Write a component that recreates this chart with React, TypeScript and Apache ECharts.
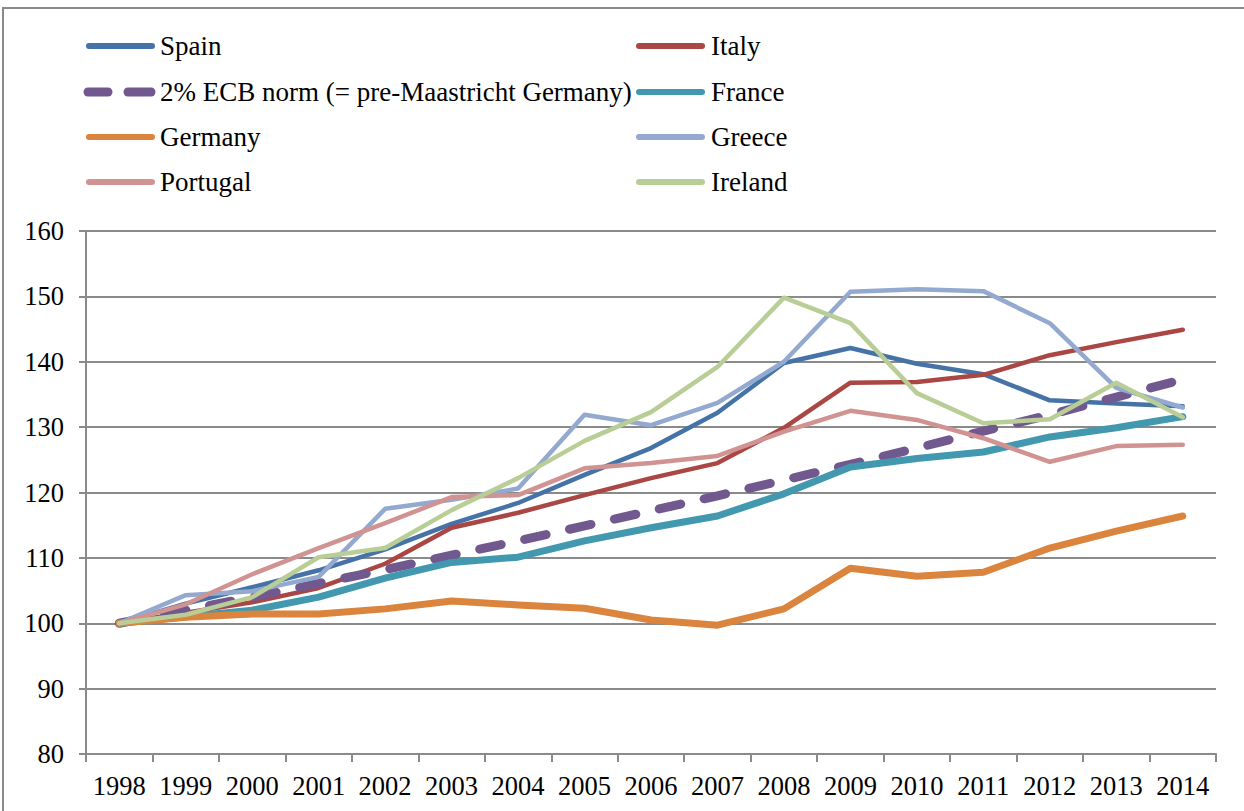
import React, { useEffect, useRef } from "react";
import * as echarts from "echarts";

const years = ["1998","1999","2000","2001","2002","2003","2004","2005","2006","2007","2008","2009","2010","2011","2012","2013","2014"];

const spain = [100, 103.0, 105.5, 108.1, 111.3, 115.2, 118.4, 122.7, 126.8, 132.2, 139.8, 142.1, 139.7, 138.1, 134.1, 133.6, 133.2];
const italy = [100, 101.6, 103.2, 105.4, 109.1, 114.6, 116.9, 119.6, 122.2, 124.5, 129.9, 136.8, 136.9, 138.0, 141.0, 143.0, 144.9];
const ecbNorm = [100, 102.0, 104.0, 106.1, 108.2, 110.4, 112.6, 114.9, 117.2, 119.5, 121.9, 124.3, 126.8, 129.4, 131.9, 134.6, 137.3];
const france = [100, 101.0, 102.0, 104.0, 106.9, 109.3, 110.1, 112.6, 114.6, 116.4, 119.8, 123.9, 125.2, 126.2, 128.5, 129.9, 131.6];
const germany = [100, 100.9, 101.4, 101.4, 102.2, 103.4, 102.8, 102.3, 100.5, 99.7, 102.2, 108.4, 107.2, 107.8, 111.5, 114.1, 116.4];
const greece = [100, 104.3, 104.9, 107.1, 117.5, 118.9, 120.6, 131.9, 130.3, 133.7, 140.0, 150.7, 151.1, 150.8, 145.9, 136.0, 133.0];
const portugal = [100, 102.9, 107.5, 111.5, 115.3, 119.3, 119.6, 123.7, 124.5, 125.6, 129.3, 132.5, 131.1, 128.3, 124.7, 127.1, 127.3];
const ireland = [100, 101.3, 104.0, 110.1, 111.5, 117.3, 122.2, 127.9, 132.3, 139.2, 149.8, 145.9, 135.2, 130.6, 131.2, 136.8, 131.5];

const yTicks = { min: 80, max: 160, interval: 10 };

const FONT = "'Liberation Serif', 'Times New Roman', serif";

const seriesDefs = [
  { name: "Spain", data: spain, color: "#4572A7", width: 4.5, dashed: false },
  { name: "Italy", data: italy, color: "#AA4643", width: 4.5, dashed: false },
  { name: "2% ECB norm (= pre-Maastricht Germany)", data: ecbNorm, color: "#71588F", width: 9, dashed: true },
  { name: "France", data: france, color: "#4198AF", width: 7, dashed: false },
  { name: "Germany", data: germany, color: "#DB843D", width: 7, dashed: false },
  { name: "Greece", data: greece, color: "#93A9CF", width: 4.5, dashed: false },
  { name: "Portugal", data: portugal, color: "#D19392", width: 4.5, dashed: false },
  { name: "Ireland", data: ireland, color: "#B9CD96", width: 4.5, dashed: false },
];

const leftCol = ["Spain", "2% ECB norm (= pre-Maastricht Germany)", "Germany", "Portugal"];
const rightCol = ["Italy", "France", "Greece", "Ireland"];

function legendGraphics(): any[] {
  const rowsY = [46, 92, 137, 182];
  const cols = [
    { names: leftCol, iconX: 86, textX: 160 },
    { names: rightCol, iconX: 636, textX: 711 },
  ];
  const els: any[] = [];
  cols.forEach((col) => {
    col.names.forEach((name, i) => {
      const d = seriesDefs.find((s) => s.name === name)!;
      const y = rowsY[i];
      if (d.dashed) {
        els.push({
          type: "line",
          silent: true,
          shape: { x1: col.iconX + 2, y1: y, x2: col.iconX + 22, y2: y },
          style: { stroke: d.color, lineWidth: 9, lineCap: "round" },
        });
        els.push({
          type: "line",
          silent: true,
          shape: { x1: col.iconX + 42, y1: y, x2: col.iconX + 65, y2: y },
          style: { stroke: d.color, lineWidth: 9, lineCap: "round" },
        });
      } else {
        els.push({
          type: "line",
          silent: true,
          shape: { x1: col.iconX + 3, y1: y, x2: col.iconX + 66, y2: y },
          style: { stroke: d.color, lineWidth: 6, lineCap: "round" },
        });
      }
      els.push({
        type: "text",
        silent: true,
        x: col.textX,
        y: y,
        style: {
          text: name,
          fontFamily: FONT,
          fontSize: 27,
          fill: "#000",
          verticalAlign: "middle",
          align: "left",
        },
      });
    });
  });
  return els;
}

export default function App() {
  const ref = useRef<HTMLDivElement>(null);
  useEffect(() => {
    if (!ref.current) return;
    const chart = echarts.init(ref.current, null, { renderer: "svg" });
    chart.setOption({
      animation: false,
      backgroundColor: "#fff",
      textStyle: { fontFamily: FONT },
      graphic: [
        {
          type: "rect",
          silent: true,
          shape: { x: 3, y: 8, width: 1400, height: 1000 },
          style: { fill: "none", stroke: "#8a8a8a", lineWidth: 2 },
        },
        ...legendGraphics(),
      ],
      grid: { left: 86, right: 28, top: 231, bottom: 57, containLabel: false },
      xAxis: {
        type: "category",
        data: years,
        boundaryGap: true,
        axisLine: { show: true, lineStyle: { color: "#8a8a8a", width: 2 } },
        axisTick: { show: true, length: 8, inside: false, alignWithLabel: false, lineStyle: { color: "#8a8a8a", width: 2 } },
        axisLabel: { fontFamily: FONT, fontSize: 26.5, color: "#000", margin: 18, interval: 0 },
        splitLine: { show: false },
      },
      yAxis: {
        type: "value",
        min: yTicks.min,
        max: yTicks.max,
        interval: yTicks.interval,
        axisLine: { show: true, lineStyle: { color: "#8a8a8a", width: 2 } },
        axisTick: { show: true, length: 7, lineStyle: { color: "#8a8a8a", width: 2 } },
        axisLabel: { fontFamily: FONT, fontSize: 26.5, color: "#000", margin: 22 },
        splitLine: { show: true, lineStyle: { color: "#8a8a8a", width: 2 } },
      },
      series: seriesDefs.map((s) => ({
        name: s.name,
        type: "line",
        data: s.data,
        showSymbol: false,
        symbol: "none",
        smooth: false,
        lineStyle: {
          color: s.color,
          width: s.width,
          type: s.dashed ? [22, 24] : "solid",
          cap: "round",
          join: "round",
        },
        itemStyle: { color: s.color },
        emphasis: { disabled: true },
      })),
    });
    return () => chart.dispose();
  }, []);
  return (
    <div
      ref={ref}
      style={{ position: "absolute", left: 0, top: 0, width: 1244, height: 811 }}
    />
  );
}
